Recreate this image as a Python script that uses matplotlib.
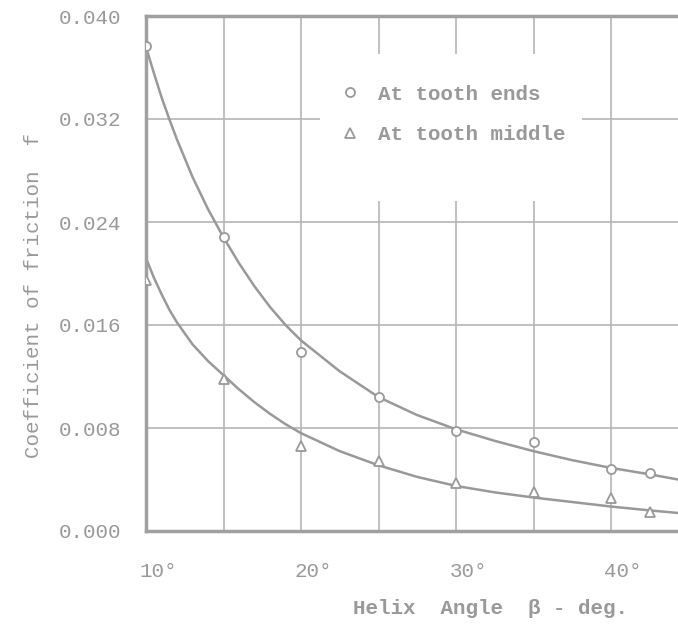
import matplotlib
matplotlib.use("Agg")
import matplotlib.pyplot as plt
import matplotlib.transforms as mtransforms
from matplotlib.lines import Line2D
from matplotlib.patches import Rectangle

# measured points, helix angle in degrees
angle_pts = [10, 15, 20, 25, 30, 35, 40, 42.5]
f_ends = [0.0377, 0.0228, 0.0139, 0.0104, 0.0078, 0.0069, 0.0048, 0.0045]
f_middle = [0.0195, 0.0118, 0.0066, 0.0054, 0.0037, 0.0030, 0.0026, 0.0015]

# faired curves
curve_angle = [10, 10.5, 11, 11.5, 12, 13, 14, 15, 16, 17, 18, 19, 20, 22.5, 25, 27.5,
               30, 32.5, 35, 37.5, 40, 42.5, 44.32]
curve_f_ends = [0.0376, 0.0356, 0.0337, 0.0320, 0.0304, 0.0275, 0.0250, 0.0228, 0.0208,
                0.0190, 0.0174, 0.0160, 0.0148, 0.0124, 0.0104, 0.0090, 0.0079, 0.0070,
                0.0062, 0.0055, 0.0049, 0.0044, 0.0040]
curve_f_mid = [0.0212, 0.0197, 0.0184, 0.0172, 0.0162, 0.0145, 0.0132, 0.0121, 0.0110,
               0.0100, 0.0091, 0.0083, 0.0076, 0.0062, 0.0051, 0.0042, 0.0035, 0.0030,
               0.0026, 0.00225, 0.0019, 0.0016, 0.0014]

x_ticks = [10, 20, 30, 40]
x_ticklabels = ["10°", "20°", "30°", "40°"]
y_ticks = [0.0, 0.008, 0.016, 0.024, 0.032, 0.040]

ink = "#999999"
grid_c = "#b5b5b5"
font = "Liberation Mono"
plt.rcParams["font.family"] = [font, "DejaVu Sans"]

fig = plt.figure(figsize=(6.78, 6.32), dpi=100)
ax = fig.add_axes([146 / 678, 1 - 531 / 632, 1 - 146 / 678, (531 - 16) / 632])

ax.set_xlim(10, 44.32)
ax.set_ylim(0, 0.040)

# grid every 5 deg and every 0.008
ax.set_xticks(range(15, 45, 5), minor=True)
ax.set_xticks(x_ticks)
ax.set_xticklabels(x_ticklabels)
ax.set_yticks(y_ticks)
ax.set_yticklabels(["%.3f" % v for v in y_ticks])
ax.set_axisbelow(True)
ax.grid(True, which="both", color=grid_c, lw=1.2, zorder=0.5)

# blank patch behind the legend text (grid is broken there on the sheet)
ax.add_patch(Rectangle((0.327, 0.641), 0.493, 0.285, transform=ax.transAxes,
                       facecolor="white", edgecolor="none", zorder=1))

ax.plot(curve_angle, curve_f_ends, color=ink, lw=1.8, zorder=2, solid_joinstyle="round")
ax.plot(curve_angle, curve_f_mid, color=ink, lw=1.8, zorder=2, solid_joinstyle="round")
ax.plot(angle_pts, f_ends, ls="none", marker="o", ms=6.5, mfc="white", mec=ink, mew=1.3, zorder=3)
ax.plot(angle_pts, f_middle, ls="none", marker="^", ms=7, mfc="white", mec=ink, mew=1.3, zorder=3)

for s in ["left", "top", "bottom"]:
    ax.spines[s].set_color("#a0a0a0")
    ax.spines[s].set_linewidth(2.5)
ax.spines["right"].set_visible(False)

ax.tick_params(which="both", length=0, colors=ink, labelsize=15)
ax.tick_params(axis="y", pad=18)
ax.tick_params(axis="x", pad=22)
shift = mtransforms.ScaledTranslation(12 / 100, 0, fig.dpi_scale_trans)
for lab in ax.get_xticklabels():
    lab.set_transform(lab.get_transform() + shift)

ax.set_xlabel("Helix  Angle  β - deg.", color=ink, fontsize=15, fontweight="bold", va="center")
ax.xaxis.set_label_coords(0.647, -0.151)
ax.set_ylabel("Coefficient of friction  f", color=ink, fontsize=15, va="center")
ax.yaxis.set_label_coords(-0.212, 0.458)

handles = [Line2D([], [], ls="none", marker="o", ms=6.5, mfc="white", mec=ink, mew=1.3),
           Line2D([], [], ls="none", marker="^", ms=7, mfc="white", mec=ink, mew=1.3)]
leg = ax.legend(handles, ["At tooth ends", "At tooth middle"], loc="upper left",
                bbox_to_anchor=(0.344, 0.887), frameon=False,
                prop={"family": font, "size": 15, "weight": "bold"},
                borderpad=0, handlelength=1.0, handletextpad=0.85, labelspacing=1.05)
for t in leg.get_texts():
    t.set_color(ink)
leg.set_zorder(4)

fig.savefig("out.png", dpi=100)
